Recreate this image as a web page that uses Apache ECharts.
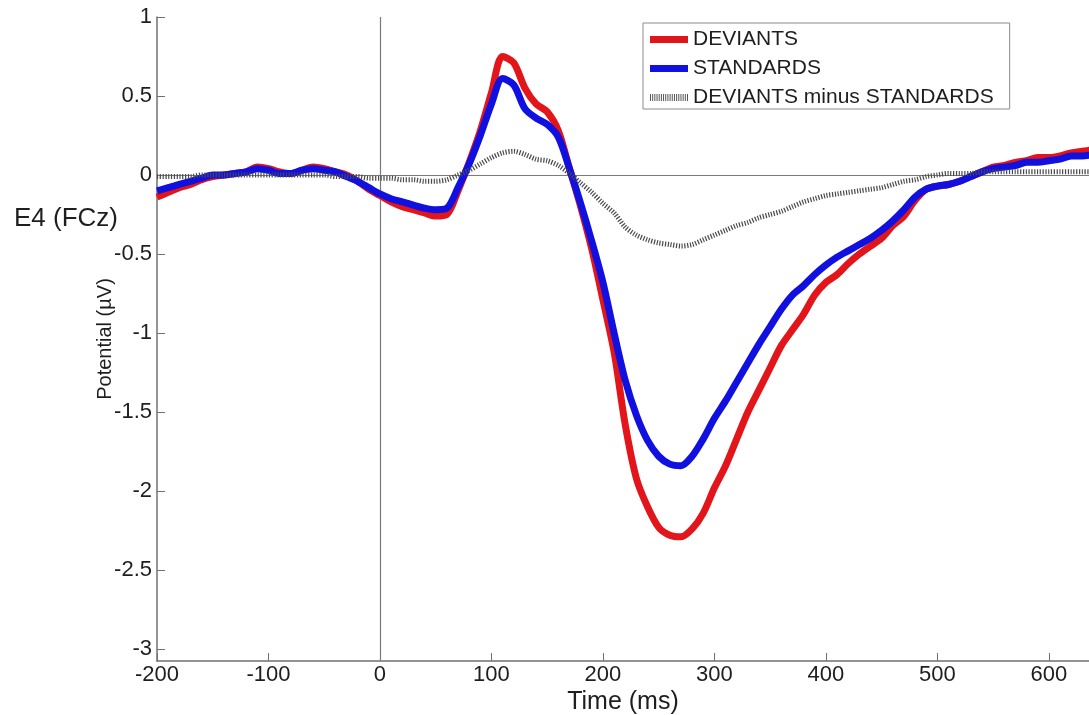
<!DOCTYPE html>
<html>
<head>
<meta charset="utf-8">
<title>E4 (FCz) ERP</title>
<script src="https://cdn.jsdelivr.net/npm/echarts@6/dist/echarts.min.js"></script>
<style>
  html, body { margin: 0; padding: 0; background: #fff; }
  #chart { width: 1089px; height: 715px; }
</style>
</head>
<body>
<div id="chart"></div>
<script>
// Time points (ms) of the averaged waveforms
const times = [-200, -190, -180, -170, -160, -150, -140, -130, -120, -110,
  -100, -90, -80, -70, -60, -50, -40, -30, -20, -10,
  0, 10, 20, 30, 40, 50, 60, 70, 80, 90,
  100, 110, 120, 130, 140, 150, 160, 170, 180, 190,
  200, 210, 220, 230, 240, 250, 260, 270, 280, 290,
  300, 310, 320, 330, 340, 350, 360, 370, 380, 390,
  400, 410, 420, 430, 440, 450, 460, 470, 480, 490,
  500, 510, 520, 530, 540, 550, 560, 570, 580, 590,
  600, 610, 620, 630, 640];

// Mean potential (µV) for deviant trials
const deviants = [-0.14, -0.11, -0.08, -0.06, -0.03, -0.01, 0.00, 0.01, 0.02, 0.05,
  0.04, 0.02, 0.01, 0.03, 0.05, 0.04, 0.02, 0.00, -0.04, -0.09,
  -0.13, -0.17, -0.20, -0.22, -0.24, -0.26, -0.25, -0.10, 0.08, 0.28,
  0.52, 0.75, 0.71, 0.55, 0.45, 0.40, 0.28, 0.04, -0.20, -0.47,
  -0.79, -1.12, -1.58, -1.92, -2.10, -2.23, -2.28, -2.29, -2.24, -2.14,
  -1.98, -1.84, -1.67, -1.50, -1.36, -1.22, -1.08, -0.98, -0.88, -0.76,
  -0.68, -0.63, -0.56, -0.50, -0.45, -0.40, -0.32, -0.26, -0.16, -0.09,
  -0.07, -0.06, -0.04, -0.01, 0.02, 0.05, 0.06, 0.08, 0.09, 0.11,
  0.11, 0.12, 0.14, 0.15, 0.16];

// Mean potential (µV) for standard trials
const standards = [-0.10, -0.08, -0.06, -0.04, -0.02, 0.00, 0.00, 0.01, 0.02, 0.04,
  0.03, 0.01, 0.01, 0.03, 0.04, 0.03, 0.02, -0.01, -0.04, -0.08,
  -0.12, -0.15, -0.17, -0.19, -0.21, -0.22, -0.21, -0.08, 0.07, 0.25,
  0.45, 0.61, 0.57, 0.42, 0.36, 0.32, 0.24, 0.04, -0.18, -0.42,
  -0.68, -1.00, -1.30, -1.52, -1.68, -1.78, -1.83, -1.84, -1.78, -1.67,
  -1.54, -1.43, -1.31, -1.19, -1.07, -0.96, -0.85, -0.76, -0.70, -0.63,
  -0.57, -0.52, -0.48, -0.44, -0.40, -0.35, -0.29, -0.22, -0.14, -0.09,
  -0.07, -0.06, -0.04, -0.01, 0.02, 0.04, 0.05, 0.06, 0.08, 0.08,
  0.09, 0.10, 0.12, 0.12, 0.13];

// Difference wave: deviants minus standards (µV)
const difference = [-0.01, -0.01, -0.01, -0.01, 0.00, 0.00, 0.00, 0.00, 0.00, 0.00,
  0.00, 0.00, 0.00, 0.00, 0.00, 0.00, -0.01, -0.01, -0.01, -0.02,
  -0.02, -0.02, -0.03, -0.03, -0.04, -0.04, -0.03, 0.00, 0.03, 0.07,
  0.11, 0.14, 0.15, 0.13, 0.10, 0.09, 0.06, 0.01, -0.05, -0.11,
  -0.18, -0.24, -0.33, -0.38, -0.41, -0.43, -0.44, -0.45, -0.44, -0.41,
  -0.38, -0.35, -0.32, -0.30, -0.27, -0.25, -0.23, -0.20, -0.17, -0.15,
  -0.13, -0.12, -0.11, -0.10, -0.09, -0.08, -0.06, -0.04, -0.03, -0.01,
  0.00, 0.01, 0.01, 0.01, 0.02, 0.02, 0.02, 0.02, 0.02, 0.02,
  0.02, 0.02, 0.02, 0.02, 0.02];

const xTicks = [-200, -100, 0, 100, 200, 300, 400, 500, 600];
const yTicks = [1, 0.5, 0, -0.5, -1, -1.5, -2, -2.5, -3];

const pairs = arr => times.map((t, i) => [t, arr[i]]);

const FONT = '"Liberation Sans", Arial, sans-serif';
const AXIS_GRAY = '#707070';
const TEXT = '#1e1e1e';

// Legend swatch for the dotted difference wave: a row of thin vertical bars
let hatch = 'path://';
for (let x = 0; x < 38; x += 2.2) hatch += 'M' + x + ',0h1v7h-1z';

const chart = echarts.init(document.getElementById('chart'), null, { renderer: 'canvas' });

chart.setOption({
  animation: false,
  backgroundColor: '#fff',
  grid: { left: 157, right: 0, top: 17, bottom: 54, containLabel: false, outerBoundsMode: 'none' },
  legend: {
    orient: 'vertical',
    left: 643,
    top: 23,
    padding: [6, 16, 1, 7],
    itemGap: 8,
    itemWidth: 38,
    itemHeight: 7,
    borderColor: '#8a8a8a',
    borderWidth: 1,
    backgroundColor: '#fff',
    textStyle: { fontFamily: FONT, fontSize: 21, color: TEXT },
    data: [
      { name: 'DEVIANTS', icon: 'rect' },
      { name: 'STANDARDS', icon: 'rect' },
      { name: 'DEVIANTS minus STANDARDS', icon: hatch }
    ]
  },
  xAxis: {
    type: 'value',
    min: -200,
    max: 636,
    name: 'Time (ms)',
    nameLocation: 'middle',
    nameGap: 29,
    nameMoveOverlap: false,
    nameTextStyle: { fontFamily: FONT, fontSize: 25, color: TEXT },
    axisLine: { onZero: false, lineStyle: { color: AXIS_GRAY, width: 1.5 } },
    axisTick: { inside: true, length: 8, customValues: xTicks, lineStyle: { color: AXIS_GRAY } },
    axisLabel: { customValues: xTicks, fontFamily: FONT, fontSize: 22, color: TEXT, margin: 3 },
    splitLine: { show: false }
  },
  yAxis: {
    type: 'value',
    min: -3.076,
    max: 1,
    name: 'Potential (µV)',
    nameLocation: 'middle',
    nameRotate: 90,
    nameGap: 42,
    nameMoveOverlap: false,
    nameTextStyle: { fontFamily: FONT, fontSize: 20, color: TEXT },
    axisLine: { show: true, onZero: false, lineStyle: { color: AXIS_GRAY, width: 1.5 } },
    axisTick: { show: true, inside: true, length: 8, customValues: yTicks, lineStyle: { color: AXIS_GRAY } },
    axisLabel: { customValues: yTicks, fontFamily: FONT, fontSize: 22, color: TEXT, margin: 5 },
    splitLine: { show: false }
  },
  graphic: [{
    type: 'text',
    left: 14,
    top: 206,
    style: { text: 'E4 (FCz)', font: '26px ' + FONT, fill: TEXT }
  }],
  series: [
    {
      name: 'DEVIANTS',
      type: 'line',
      data: pairs(deviants),
      smooth: 0.3,
      showSymbol: false,
      symbol: 'none',
      color: '#e2151b',
      lineStyle: { color: '#e2151b', width: 7 },
      z: 2,
      markLine: {
        silent: true,
        symbol: 'none',
        label: { show: false },
        lineStyle: { color: '#7a7a7a', width: 1.2, type: 'solid' },
        data: [{ xAxis: 0 }, { yAxis: 0 }],
        z: 1
      }
    },
    {
      name: 'STANDARDS',
      type: 'line',
      data: pairs(standards),
      smooth: 0.3,
      showSymbol: false,
      symbol: 'none',
      color: '#1010e0',
      lineStyle: { color: '#1010e0', width: 7 },
      z: 3
    },
    {
      name: 'DEVIANTS minus STANDARDS',
      type: 'line',
      data: pairs(difference),
      smooth: 0.3,
      showSymbol: false,
      symbol: 'none',
      color: '#555',
      lineStyle: { color: '#4a4a4a', width: 5, type: [1.2, 1.6] },
      z: 4
    }
  ]
});
</script>
</body>
</html>
